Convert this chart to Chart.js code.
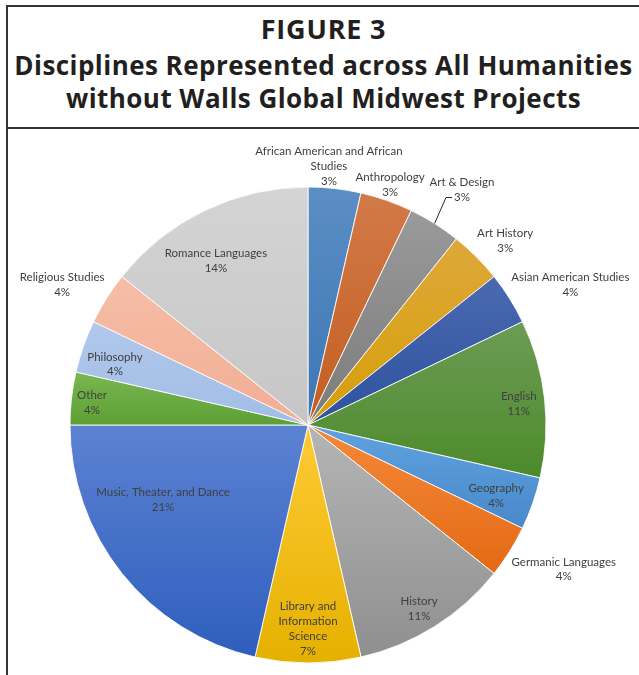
<!DOCTYPE html>
<html lang="en">
<head>
    <meta charset="UTF-8">
    <title>Figure 3</title>
    <script src="https://cdn.jsdelivr.net/npm/chart.js"></script>
    <style>
        body { margin: 0; background: #fff; width: 639px; height: 675px; overflow: hidden; position: relative; font-family: "Open Sans", sans-serif; }
        .frame { position: absolute; left: 6px; top: 5px; width: 640px; height: 700px; border-left: 2px solid #333; border-top: 2px solid #333; }
        .sep { position: absolute; left: 6px; top: 127px; width: 640px; border-top: 2px solid #333; }
        .t { position: absolute; left: 8px; width: 631px; text-align: center; color: #231f20; font-weight: 700; white-space: nowrap; }
        #t1 { top: 11px; font-size: 27px; line-height: 36px; letter-spacing: 0.8px; }
        #t2 { top: 48px; font-size: 26px; line-height: 34px; letter-spacing: 0.45px; }
        #t3 { top: 81px; font-size: 26px; line-height: 34px; letter-spacing: 0.45px; }
        #wrap { position: absolute; left: 0; top: 0; width: 639px; height: 675px; }
    </style>
</head>
<body>
    <div class="frame"></div>
    <div class="sep"></div>
    <div class="t" id="t1">FIGURE 3</div>
    <div class="t" id="t2">Disciplines Represented across All Humanities</div>
    <div class="t" id="t3">without Walls Global Midwest Projects</div>
    <div id="wrap"><canvas id="pie"></canvas></div>
    <script>
        // slices, clockwise from 12 o'clock
        const categories = [
            'African American and African Studies', 'Anthropology', 'Art & Design', 'Art History',
            'Asian American Studies', 'English', 'Geography', 'Germanic Languages', 'History',
            'Library and Information Science', 'Music, Theater, and Dance', 'Other', 'Philosophy',
            'Religious Studies', 'Romance Languages'
        ];
        // number of projects per discipline
        const projects = [1, 1, 1, 1, 1, 3, 1, 1, 3, 2, 6, 1, 1, 1, 4];
        // percentages as printed on the figure
        const pctLabels = ['3%', '3%', '3%', '3%', '4%', '11%', '4%', '4%', '11%', '7%', '21%', '4%', '4%', '4%', '14%'];

        // how the label text is broken into lines
        const labelLines = [
            ['African American and African', 'Studies'], ['Anthropology'], ['Art & Design'], ['Art History'],
            ['Asian American Studies'], ['English'], ['Geography'], ['Germanic Languages'], ['History'],
            ['Library and', 'Information', 'Science'], ['Music, Theater, and Dance'], ['Other'], ['Philosophy'],
            ['Religious Studies'], ['Romance Languages']
        ];

        const topColors = ['#5b8ec4', '#d27a4a', '#9a9a9a', '#dea83a', '#4a69b0', '#6b9c55', '#60a2de', '#f5893a',
            '#b5b5b5', '#ffca35', '#5c82d2', '#7ab752', '#b0c8ea', '#f6bda7', '#d4d4d4'];
        const bottomColors = ['#3c76b4', '#c45d1e', '#7b7b7b', '#d69f08', '#2e529f', '#4d8a2a', '#4888cc', '#e46a14',
            '#8f8f8f', '#e5b100', '#2e5ebd', '#5c9f34', '#a2bde6', '#f1ae94', '#c6c6c6'];

        // label placement: fraction of radius, angle shift in degrees (clockwise)
        const labelRadius = [1.09, 1.066, 1.18, 1.133, 1.25, 0.89, 0.845, 1.234, 0.903, 0.857, 0.686, 0.912, 0.85, 1.19, 0.79];
        const labelShift = [-1.8, -0.4, 1.1, 2, 4, 0.7, 1.4, -2.7, 1, 0, 11.2, -0.6, -1.8, -2.4, -3.6];
        const leaderFor = [2];

        const R = 238;
        const CX = 308, CY = 425;

        function sliceGradient(context) {
            const chart = context.chart;
            const i = context.dataIndex;
            if (!chart.chartArea || i === undefined) return topColors[i || 0];
            const total = projects.reduce((a, b) => a + b, 0);
            let before = 0;
            for (let k = 0; k < i; k++) before += projects[k];
            const a0 = before / total * Math.PI * 2;
            const a1 = (before + projects[i]) / total * Math.PI * 2;
            const ca = chart.chartArea;
            const cy = (ca.top + ca.bottom) / 2;
            // vertical extent of the slice (angle measured clockwise from top)
            const ys = [0, -Math.cos(a0) * R, -Math.cos(a1) * R];
            if (a0 <= 0 && a1 >= 0) ys.push(-R);
            if (a0 <= Math.PI && a1 >= Math.PI) ys.push(R);
            const y0 = cy + Math.min(...ys);
            const y1 = cy + Math.max(...ys);
            const g = chart.ctx.createLinearGradient(0, y0, 0, y1 + 0.01);
            g.addColorStop(0, topColors[i]);
            g.addColorStop(1, bottomColors[i]);
            return g;
        }

        const sliceLabels = {
            id: 'sliceLabels',
            afterDatasetsDraw(chart) {
                const ctx = chart.ctx;
                const meta = chart.getDatasetMeta(0);
                ctx.save();
                ctx.font = '11.5px Lato, "Open Sans", sans-serif';
                ctx.fillStyle = '#404040';
                ctx.textAlign = 'center';
                ctx.textBaseline = 'middle';
                const lh = 14.8;
                meta.data.forEach((arc, i) => {
                    const p = arc.getProps(['x', 'y', 'startAngle', 'endAngle', 'outerRadius'], true);
                    const mid = (p.startAngle + p.endAngle) / 2 + labelShift[i] * Math.PI / 180;
                    const r = p.outerRadius * labelRadius[i];
                    const lx = p.x + Math.cos(mid) * r;
                    const ly = p.y + Math.sin(mid) * r;
                    const lines = labelLines[i].concat([pctLabels[i]]);
                    const top = ly - (lines.length - 1) * lh / 2;
                    lines.forEach((s, k) => ctx.fillText(s, lx, top + k * lh));
                    if (leaderFor.includes(i)) {
                        const m0 = (p.startAngle + p.endAngle) / 2;
                        const ex = p.x + Math.cos(m0) * p.outerRadius;
                        const ey = p.y + Math.sin(m0) * p.outerRadius;
                        const yy = top + (lines.length - 1) * lh;
                        ctx.beginPath();
                        ctx.strokeStyle = '#262626';
                        ctx.lineWidth = 1;
                        ctx.moveTo(ex, ey);
                        ctx.lineTo(lx - 16, yy);
                        ctx.lineTo(lx - 10, yy);
                        ctx.stroke();
                    }
                });
                ctx.restore();
            }
        };

        new Chart(document.getElementById('pie'), {
            type: 'pie',
            data: {
                labels: categories,
                datasets: [{
                    data: projects,
                    backgroundColor: sliceGradient,
                    borderColor: 'rgba(255,255,255,0.85)',
                    borderWidth: 1
                }]
            },
            options: {
                responsive: true,
                maintainAspectRatio: false,
                animation: false,
                radius: R,
                layout: {
                    padding: { left: CX - R, right: 639 - CX - R, top: CY - R, bottom: 675 - CY - R }
                },
                plugins: {
                    legend: { display: false },
                    tooltip: { enabled: false }
                }
            },
            plugins: [sliceLabels]
        });
    </script>
</body>
</html>
